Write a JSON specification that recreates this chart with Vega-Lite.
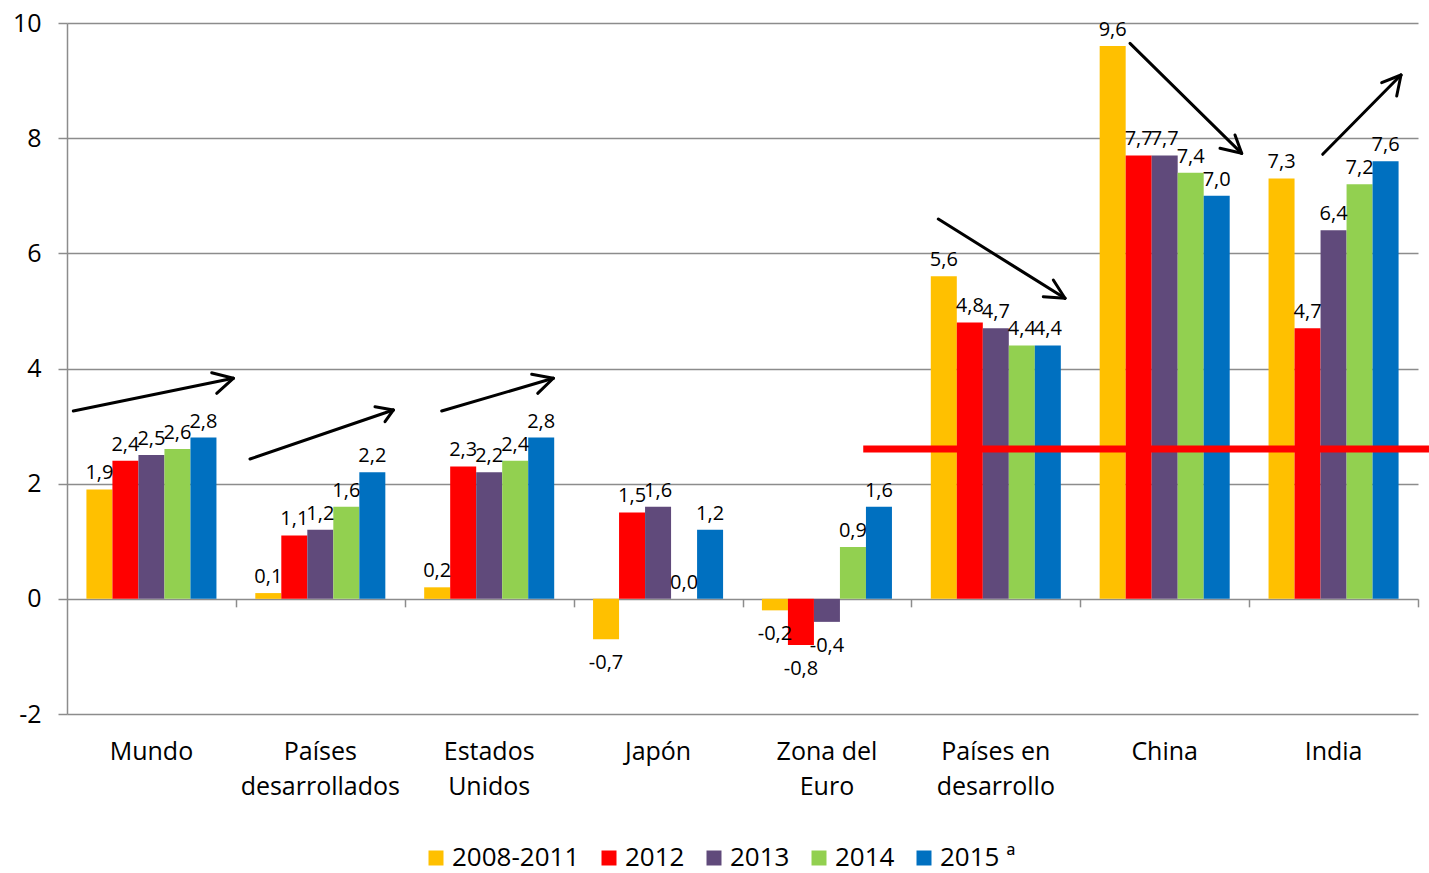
{
  "$schema": "https://vega.github.io/schema/vega-lite/v6.json",
  "width": 1351,
  "height": 691,
  "autosize": "none",
  "padding": {"left": 67, "top": 23, "right": 11, "bottom": 159},
  "background": "white",
  "config": {
    "font": "Open Sans",
    "locale": {"number": {"decimal": ",", "thousands": ".", "grouping": [3], "currency": ["", " €"], "minus": "-"}},
    "view": {"stroke": null},
    "axis": {"labelColor": "black", "labelFont": "Open Sans"},
    "legend": {"labelColor": "black", "labelFont": "Open Sans"}
  },
  "datasets": {
    "growth": [
      {"region": "Mundo", "period": "2008-2011", "value": 1.9},
      {"region": "Mundo", "period": "2012", "value": 2.4},
      {"region": "Mundo", "period": "2013", "value": 2.5},
      {"region": "Mundo", "period": "2014", "value": 2.6},
      {"region": "Mundo", "period": "2015 ª", "value": 2.8},
      {"region": "Países desarrollados", "period": "2008-2011", "value": 0.1},
      {"region": "Países desarrollados", "period": "2012", "value": 1.1},
      {"region": "Países desarrollados", "period": "2013", "value": 1.2},
      {"region": "Países desarrollados", "period": "2014", "value": 1.6},
      {"region": "Países desarrollados", "period": "2015 ª", "value": 2.2},
      {"region": "Estados Unidos", "period": "2008-2011", "value": 0.2},
      {"region": "Estados Unidos", "period": "2012", "value": 2.3},
      {"region": "Estados Unidos", "period": "2013", "value": 2.2},
      {"region": "Estados Unidos", "period": "2014", "value": 2.4},
      {"region": "Estados Unidos", "period": "2015 ª", "value": 2.8},
      {"region": "Japón", "period": "2008-2011", "value": -0.7},
      {"region": "Japón", "period": "2012", "value": 1.5},
      {"region": "Japón", "period": "2013", "value": 1.6},
      {"region": "Japón", "period": "2014", "value": 0.0},
      {"region": "Japón", "period": "2015 ª", "value": 1.2},
      {"region": "Zona del Euro", "period": "2008-2011", "value": -0.2},
      {"region": "Zona del Euro", "period": "2012", "value": -0.8},
      {"region": "Zona del Euro", "period": "2013", "value": -0.4},
      {"region": "Zona del Euro", "period": "2014", "value": 0.9},
      {"region": "Zona del Euro", "period": "2015 ª", "value": 1.6},
      {"region": "Países en desarrollo", "period": "2008-2011", "value": 5.6},
      {"region": "Países en desarrollo", "period": "2012", "value": 4.8},
      {"region": "Países en desarrollo", "period": "2013", "value": 4.7},
      {"region": "Países en desarrollo", "period": "2014", "value": 4.4},
      {"region": "Países en desarrollo", "period": "2015 ª", "value": 4.4},
      {"region": "China", "period": "2008-2011", "value": 9.6},
      {"region": "China", "period": "2012", "value": 7.7},
      {"region": "China", "period": "2013", "value": 7.7},
      {"region": "China", "period": "2014", "value": 7.4},
      {"region": "China", "period": "2015 ª", "value": 7.0},
      {"region": "India", "period": "2008-2011", "value": 7.3},
      {"region": "India", "period": "2012", "value": 4.7},
      {"region": "India", "period": "2013", "value": 6.4},
      {"region": "India", "period": "2014", "value": 7.2},
      {"region": "India", "period": "2015 ª", "value": 7.6}
    ],
    "trends": [
      {"trend": "Mundo", "x": 0.0373, "y": 3.262, "x2": 0.9848, "y2": 3.830},
      {"trend": "Mundo", "x": 0.8569, "y": 3.927, "x2": 0.9848, "y2": 3.830},
      {"trend": "Mundo", "x": 0.8865, "y": 3.569, "x2": 0.9848, "y2": 3.830},
      {"trend": "Países desarrollados", "x": 1.0836, "y": 2.428, "x2": 1.9322, "y2": 3.279},
      {"trend": "Países desarrollados", "x": 1.8238, "y": 3.337, "x2": 1.9322, "y2": 3.279},
      {"trend": "Países desarrollados", "x": 1.8831, "y": 3.076, "x2": 1.9322, "y2": 3.279},
      {"trend": "Estados Unidos", "x": 2.2188, "y": 3.262, "x2": 2.8797, "y2": 3.830},
      {"trend": "Estados Unidos", "x": 2.7517, "y": 3.899, "x2": 2.8797, "y2": 3.830},
      {"trend": "Estados Unidos", "x": 2.7873, "y": 3.569, "x2": 2.8797, "y2": 3.830},
      {"trend": "Países en desarrollo", "x": 5.1594, "y": 6.596, "x2": 5.9097, "y2": 5.219},
      {"trend": "Países en desarrollo", "x": 5.8405, "y": 5.537, "x2": 5.9097, "y2": 5.219},
      {"trend": "Países en desarrollo", "x": 5.7812, "y": 5.247, "x2": 5.9097, "y2": 5.219},
      {"trend": "China", "x": 6.2946, "y": 9.647, "x2": 6.9560, "y2": 7.737},
      {"trend": "China", "x": 6.9164, "y": 8.055, "x2": 6.9560, "y2": 7.737},
      {"trend": "China", "x": 6.8275, "y": 7.824, "x2": 6.9560, "y2": 7.737},
      {"trend": "India", "x": 7.4357, "y": 7.720, "x2": 7.8993, "y2": 9.097},
      {"trend": "India", "x": 7.7850, "y": 8.963, "x2": 7.8993, "y2": 9.097},
      {"trend": "India", "x": 7.8739, "y": 8.732, "x2": 7.8993, "y2": 9.097}
    ],
    "benchmark": [
      {"level": 2.6, "start": 4.715, "end": 8.065}
    ]
  },
  "resolve": {"scale": {"x": "independent"}},
  "layer": [
    {
      "data": {"name": "growth"},
      "resolve": {"axis": {"x": "independent"}},
      "layer": [
        {
          "mark": {"type": "bar"},
          "encoding": {
            "x": {
              "field": "region", "type": "nominal", "sort": null, "title": null,
              "scale": {"domain": ["Mundo", "Países desarrollados", "Estados Unidos", "Japón", "Zona del Euro", "Países en desarrollo", "China", "India"], "paddingInner": 0.23, "paddingOuter": 0.115},
              "axis": {
                "orient": "bottom", "domain": false, "ticks": false, "grid": false,
                "labelAngle": 0, "labelFontSize": 25, "labelPadding": 25, "labelLineHeight": 35,
                "labelAlign": "center", "labelBaseline": "top",
                "labelExpr": "lastindexof(datum.label, ' ') > 0 ? [substring(datum.label, 0, lastindexof(datum.label, ' ')), substring(datum.label, lastindexof(datum.label, ' ') + 1)] : datum.label"
              }
            },
            "xOffset": {"field": "period", "type": "nominal", "scale": {"domain": ["2008-2011", "2012", "2013", "2014", "2015 ª"], "paddingInner": 0, "paddingOuter": 0}},
            "y": {
              "field": "value", "type": "quantitative", "title": null,
              "scale": {"domain": [-2, 10], "nice": false, "zero": false},
              "axis": {
                "values": [-2, 0, 2, 4, 6, 8, 10], "format": "d",
                "domainColor": "#8c8c8c", "domainWidth": 1.5,
                "tickColor": "#8c8c8c", "tickWidth": 1.5, "tickSize": 9,
                "gridColor": "#8c8c8c", "gridWidth": 1.5,
                "labelFontSize": 25, "labelPadding": 17
              }
            },
            "color": {
              "field": "period", "type": "nominal",
              "scale": {"domain": ["2008-2011", "2012", "2013", "2014", "2015 ª"], "range": ["#FFC000", "#FF0000", "#604A7B", "#92D050", "#0070C0"]},
              "legend": {
                "orient": "none", "legendX": 356, "legendY": 822, "direction": "horizontal",
                "title": null, "symbolType": "square", "symbolSize": 225, "symbolStrokeWidth": 0,
                "labelFontSize": 26, "labelOffset": 3, "columnPadding": 16
              }
            }
          }
        },
        {
          "transform": [{"filter": "datum.value >= 0"}],
          "mark": {"type": "text", "baseline": "alphabetic", "align": "center", "dy": -10, "fontSize": 20, "color": "black"},
          "encoding": {
            "x": {"field": "region", "type": "nominal", "sort": null, "axis": null, "scale": {"domain": ["Mundo", "Países desarrollados", "Estados Unidos", "Japón", "Zona del Euro", "Países en desarrollo", "China", "India"], "paddingInner": 0.23, "paddingOuter": 0.115}},
            "xOffset": {"field": "period", "type": "nominal", "scale": {"domain": ["2008-2011", "2012", "2013", "2014", "2015 ª"], "paddingInner": 0, "paddingOuter": 0}},
            "y": {"field": "value", "type": "quantitative", "title": null},
            "text": {"field": "value", "type": "quantitative", "format": ".1f"}
          }
        },
        {
          "transform": [{"filter": "datum.value < 0"}],
          "mark": {"type": "text", "baseline": "alphabetic", "align": "center", "dy": 30, "fontSize": 20, "color": "black"},
          "encoding": {
            "x": {"field": "region", "type": "nominal", "sort": null, "axis": null, "scale": {"domain": ["Mundo", "Países desarrollados", "Estados Unidos", "Japón", "Zona del Euro", "Países en desarrollo", "China", "India"], "paddingInner": 0.23, "paddingOuter": 0.115}},
            "xOffset": {"field": "period", "type": "nominal", "scale": {"domain": ["2008-2011", "2012", "2013", "2014", "2015 ª"], "paddingInner": 0, "paddingOuter": 0}},
            "y": {"field": "value", "type": "quantitative", "title": null},
            "text": {"field": "value", "type": "quantitative", "format": ".1f"}
          }
        }
      ]
    },
    {
      "layer": [
        {
          "data": {"name": "trends"},
          "mark": {"type": "rule", "color": "black", "strokeWidth": 3, "strokeCap": "round"},
          "encoding": {
            "x": {
              "field": "x", "type": "quantitative", "title": null,
              "scale": {"domain": [0, 8], "nice": false, "zero": false},
              "axis": {
                "orient": "bottom", "offset": -115.17, "values": [1, 2, 3, 4, 5, 6, 7, 8],
                "labels": false, "domain": false, "grid": false,
                "ticks": true, "tickSize": 8, "tickColor": "#8c8c8c", "tickWidth": 1.5, "title": null
              }
            },
            "x2": {"field": "x2"},
            "y": {"field": "y", "type": "quantitative", "title": null},
            "y2": {"field": "y2"}
          }
        },
        {
          "data": {"name": "benchmark"},
          "mark": {"type": "rule", "color": "#FF0000", "strokeWidth": 7},
          "encoding": {
            "x": {"field": "start", "type": "quantitative", "title": null, "scale": {"domain": [0, 8], "nice": false, "zero": false}},
            "x2": {"field": "end"},
            "y": {"field": "level", "type": "quantitative", "title": null}
          }
        }
      ]
    }
  ]
}
